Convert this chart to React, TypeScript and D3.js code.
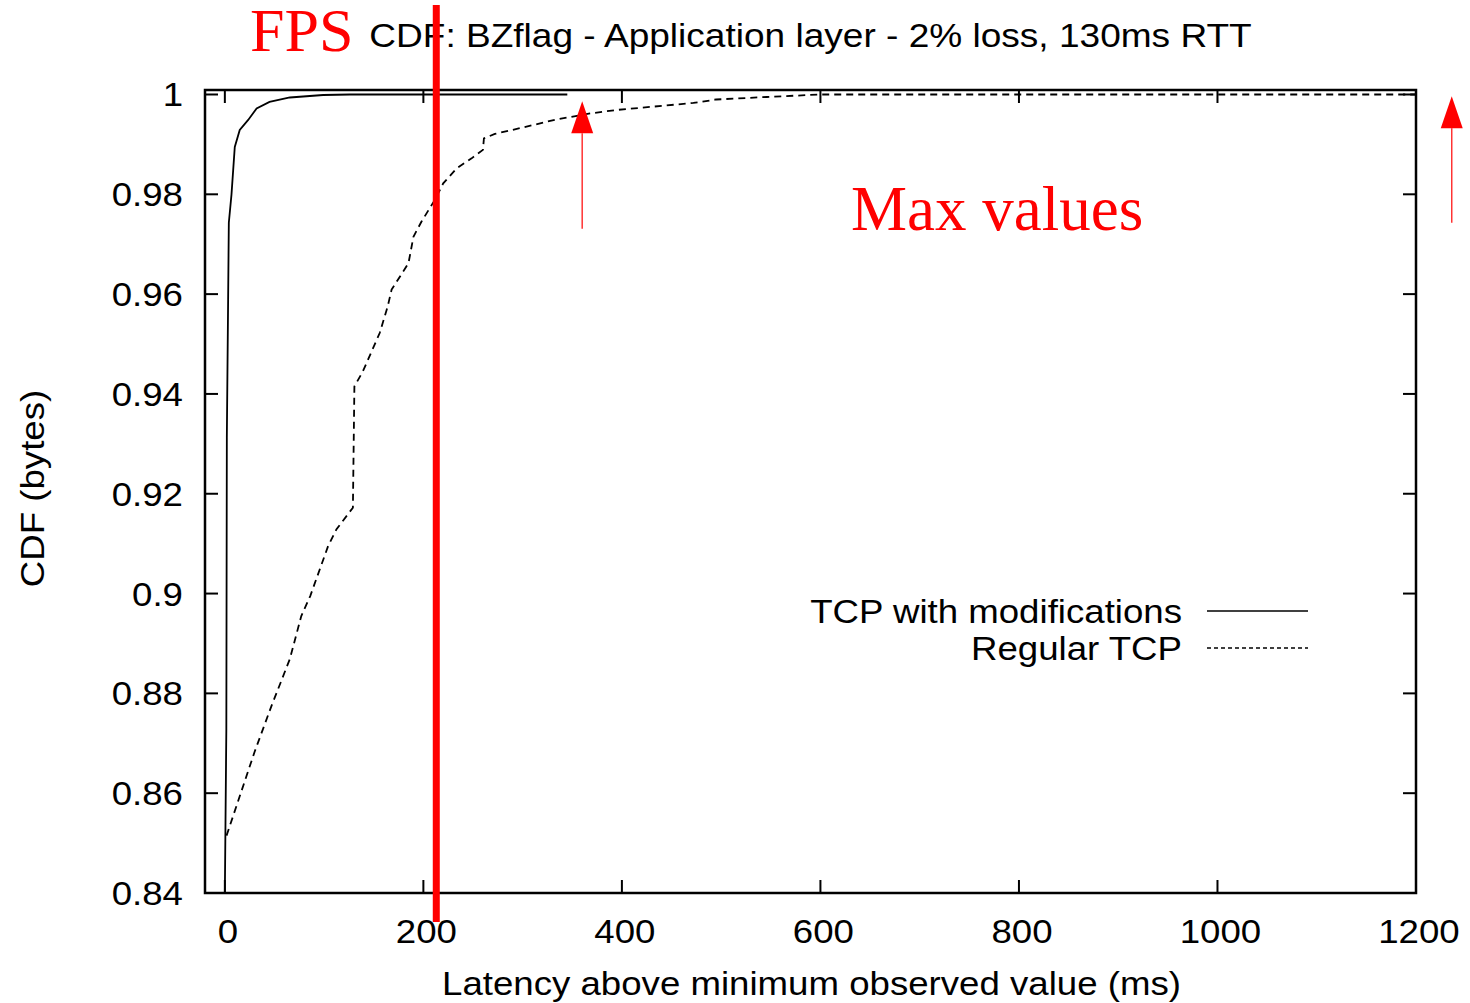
import React, { useRef, useEffect } from "react";
import * as d3 from "d3";

// TCP with modifications (solid)
const modX = [0, 1.5, 2, 3.3, 4, 6.7, 10, 15, 23.5, 32, 45, 65.5, 99, 126, 345];
const modY = [0.84, 0.8729, 0.9313, 0.9589, 0.9743, 0.98, 0.9895, 0.9929, 0.9949, 0.9972, 0.9985, 0.9994, 0.9999, 1.0, 1.0];

// Regular TCP (dashed)
const regX = [1.7, 30, 47, 65.5, 77, 86, 104, 112.5, 129, 130.5, 139, 156, 164, 168, 185, 190, 198, 211.6, 220, 233.5, 248.6, 260, 261, 272, 300.6, 334, 368, 394.6, 472, 495, 546, 600, 1200];
const regY = [0.8515, 0.8683, 0.8775, 0.8869, 0.8955, 0.8995, 0.9095, 0.9129, 0.9172, 0.9415, 0.9445, 0.9522, 0.9575, 0.9609, 0.9662, 0.9715, 0.9745, 0.9789, 0.9822, 0.9852, 0.9872, 0.9889, 0.9912, 0.9921, 0.9934, 0.995, 0.9962, 0.9969, 0.9983, 0.999, 0.9995, 1.0, 1.0];

const xTicks = [0, 200, 400, 600, 800, 1000, 1200];
const yTicks = [0.84, 0.86, 0.88, 0.9, 0.92, 0.94, 0.96, 0.98, 1];

const seriesNames = ["TCP with modifications", "Regular TCP"];

// annotations (in data units)
const fpsValue = 213;
const maxArrows = [
  { x: 360, top: 0.99866, bottom: 0.9731 },
  { x: 1236, top: 0.99966, bottom: 0.9743 },
];

function App() {
  const svgRef = useRef<SVGSVGElement>(null);
  const width = 1470;
  const height = 1003;
  const margin = { top: 90, right: 54, bottom: 110, left: 205 };

  useEffect(() => {
    const svg = d3.select(svgRef.current);
    svg.selectAll("*").remove();

    const x = d3.scaleLinear().domain([-20, 1200]).range([margin.left, width - margin.right]);
    const y = d3.scaleLinear().domain([0.84, 1.0009]).range([height - margin.bottom, margin.top]);

    const font = "'Liberation Sans', Arial, sans-serif";
    const x0 = margin.left, x1 = width - margin.right;
    const y0 = height - margin.bottom, y1 = margin.top;
    const tick = 13;
    const sx = 1.11; // gnuplot's font runs a little wider than Liberation Sans

    // sans text, stretched horizontally
    const label = (
      px: number,
      py: number,
      str: string,
      anchor: string,
      size = 33,
      rotate = 0,
      k = sx
    ) =>
      svg
        .append("text")
        .attr("transform", `translate(${px},${py}) rotate(${rotate}) scale(${k},1)`)
        .attr("text-anchor", anchor)
        .attr("font-family", font)
        .attr("font-size", size)
        .attr("fill", "#000")
        .text(str);

    // ticks (inward, mirrored)
    const g = svg.append("g").attr("stroke", "#000").attr("stroke-width", 2);
    xTicks.forEach((t) => {
      g.append("line").attr("x1", x(t)).attr("x2", x(t)).attr("y1", y0).attr("y2", y0 - tick);
      g.append("line").attr("x1", x(t)).attr("x2", x(t)).attr("y1", y1).attr("y2", y1 + tick);
    });
    yTicks.forEach((t) => {
      g.append("line").attr("x1", x0).attr("x2", x0 + tick).attr("y1", y(t)).attr("y2", y(t));
      g.append("line").attr("x1", x1).attr("x2", x1 - tick).attr("y1", y(t)).attr("y2", y(t));
    });

    // tick labels
    xTicks.forEach((t) => label(x(t) + 3, y0 + 50, String(t), "middle"));
    yTicks.forEach((t) => label(x0 - 22, y(t) + 12, t === 1 ? "1" : String(t), "end"));

    // lines
    const line = d3
      .line<[number, number]>()
      .x((d) => x(d[0]))
      .y((d) => y(d[1]));

    svg
      .append("path")
      .datum(modX.map((v, i) => [v, modY[i]] as [number, number]))
      .attr("d", line)
      .attr("fill", "none")
      .attr("stroke", "#000")
      .attr("stroke-width", 1.8);

    svg
      .append("path")
      .datum(regX.map((v, i) => [v, regY[i]] as [number, number]))
      .attr("d", line)
      .attr("fill", "none")
      .attr("stroke", "#000")
      .attr("stroke-width", 1.8)
      .attr("stroke-dasharray", "7 5");

    // frame
    svg
      .append("rect")
      .attr("x", x0)
      .attr("y", y1)
      .attr("width", x1 - x0)
      .attr("height", y0 - y1)
      .attr("fill", "none")
      .attr("stroke", "#000")
      .attr("stroke-width", 2.5);

    // legend
    seriesNames.forEach((name, i) => {
      const ly = 611 + i * 37;
      label(1182, ly + 12, name, "end");
      svg
        .append("line")
        .attr("x1", 1207)
        .attr("x2", 1308)
        .attr("y1", ly)
        .attr("y2", ly)
        .attr("stroke", "#000")
        .attr("stroke-width", 1.5)
        .attr("stroke-dasharray", i === 1 ? "4 3" : null);
    });

    // title + axis labels
    label((x0 + x1) / 2, 47, "CDF: BZflag - Application layer - 2% loss, 130ms RTT", "middle", 34, 0, 1.09);
    label((x0 + x1) / 2 + 1, 995, "Latency above minimum observed value (ms)", "middle");
    label(44, (y0 + y1) / 2 - 3, "CDF (bytes)", "middle", 33, -90);

    // red annotations
    const serif = "'Liberation Serif', 'Times New Roman', serif";
    svg
      .append("line")
      .attr("x1", x(fpsValue))
      .attr("x2", x(fpsValue))
      .attr("y1", 5)
      .attr("y2", 922)
      .attr("stroke", "#ff0000")
      .attr("stroke-width", 7);

    maxArrows.forEach((a) => {
      const ax = x(a.x);
      const top = y(a.top);
      const base = top + 32;
      svg
        .append("line")
        .attr("x1", ax)
        .attr("x2", ax)
        .attr("y1", base)
        .attr("y2", y(a.bottom))
        .attr("stroke", "#ff3333")
        .attr("stroke-width", 1.5);
      svg
        .append("path")
        .attr("d", `M${ax},${top} L${ax - 11},${base} L${ax + 11},${base} Z`)
        .attr("fill", "#ff0000");
    });

    svg
      .append("text")
      .attr("x", 250)
      .attr("y", 51)
      .attr("font-family", serif)
      .attr("font-size", 62)
      .attr("fill", "#ff0000")
      .text("FPS");

    svg
      .append("text")
      .attr("x", 851)
      .attr("y", 230)
      .attr("font-family", serif)
      .attr("font-size", 63)
      .attr("fill", "#ff0000")
      .text("Max values");
  }, []);

  return (
    <div style={{ position: "absolute", left: 0, top: 0 }}>
      <svg ref={svgRef} width={width} height={height} style={{ display: "block", background: "#fff" }} />
    </div>
  );
}

export default App;
